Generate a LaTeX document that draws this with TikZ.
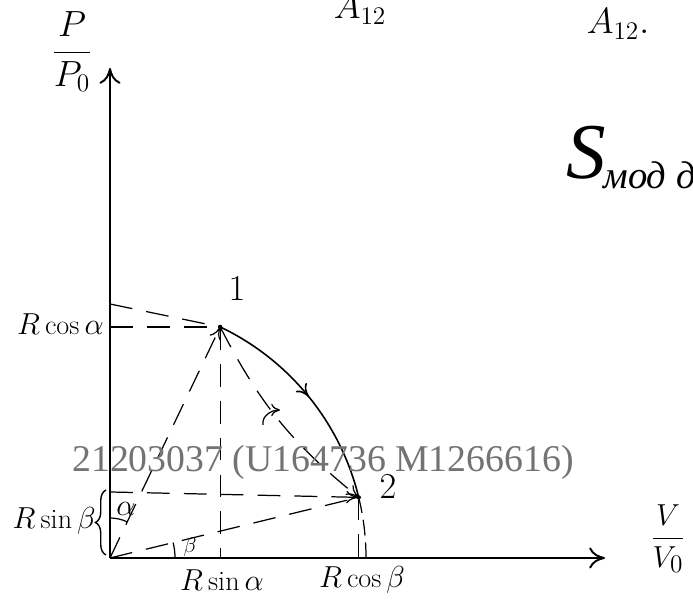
\documentclass[tikz,border=0pt]{standalone}
\usepackage{amsmath,amssymb}
\usepackage{fontspec}
\newfontfamily\cyrfont{Liberation Serif}
\newfontfamily\markfont{Liberation Serif}
\usetikzlibrary{arrows.meta,calc,decorations.pathreplacing,decorations.markings}

\begin{document}
\begin{tikzpicture}[x=0.02cm, y=0.02cm,
  axis/.style={line width=1.1pt, -{To[length=9pt,width=12pt]}},
  guide/.style={line width=0.7pt, dash pattern=on 13pt off 8pt},
  lbl/.style={inner sep=0pt, font=\fontsize{16}{18}\selectfont}]
  \useasboundingbox (0,0) rectangle (693,607);
  \coordinate (O) at (110,49);
  \path (O) ++(64.5:256) coordinate (P1);
  \path (O) ++(13.7:256) coordinate (P2);
  \coordinate (T1) at (110,303);
  \coordinate (T2) at (110,115);
  \draw[axis] (O) -- (110,539);
  \draw[axis] (O) -- (605,49);
  \draw[line width=0.9pt, decoration={markings, mark=at position 0.5 with {\arrow{To[length=7pt,width=8pt]}}}, postaction=decorate]
    (P1) arc[start angle=64.5, end angle=13.7, radius=256];
  \draw[line width=0.7pt, dash pattern=on 9pt off 4pt] (P2) arc[start angle=13.7, end angle=0, radius=256];
  \draw[guide] (O |- P1) -- (P1);
  \draw[guide] (T1) -- (P1);
  \draw[guide] (P1) -- (P1 |- O);
  \draw[guide, -{To[length=7pt,width=7pt]}] (O) -- (P1);
  \draw[guide, -{To[length=7pt,width=7pt]}] (P1) to[bend right=12] (P2);
  \draw[guide, -{To[length=7pt,width=7pt]}] (T2) -- (P2);
  \draw[guide] (O) -- (P2);
  \draw[guide] (P2) -- (P2 |- O);
  \draw[line width=0.7pt, -{To[length=5pt,width=7pt]}] (263,182) to[out=100,in=180] (280,197);
  \draw[line width=0.7pt] (O) ++(90:40) arc[start angle=90, end angle=64.5, radius=40];
  \draw[line width=0.7pt] (O) ++(0:65) arc[start angle=0, end angle=13.7, radius=65];
  \draw[line width=0.8pt, decorate, decoration={brace, amplitude=6pt}] (106,52) -- (106,117);
  \fill (P1) circle[radius=2.2];
  \fill (P2) circle[radius=2.2];
  \node[lbl, anchor=east] (rca) at (104,283) {$R\cos\alpha$};
  \node[lbl, anchor=east] (rsb) at (96,86) {$R\sin\beta$};
  \node[lbl] (rsa) at (222,27) {$R\sin\alpha$};
  \node[lbl] (rcb) at (362,27) {$R\cos\beta$};
  \node[lbl] (ang1) at (126,98) {$\alpha$};
  \node[lbl, font=\fontsize{13}{15}\selectfont] (ang2) at (190,60) {$\beta$};
  \node[font=\fontsize{20}{22}\selectfont] (n1) at (237,318) {$1$};
  \node[font=\fontsize{20}{22}\selectfont] (n2) at (388,120) {$2$};
  \node[font=\fontsize{20}{22}\selectfont] (pp0) at (72,555) {$\dfrac{P}{P_0}$};
  \node[font=\fontsize{19}{21}\selectfont] (vv0) at (668,68) {$\dfrac{V}{V_0}$};
  \node[font=\fontsize{20}{22}\selectfont] (a12a) at (360,598) {$A_{12}$};
  \node[font=\fontsize{20}{22}\selectfont] (a12b) at (618,583) {$A_{12}.$};
  \node[font=\cyrfont\itshape\fontsize{45}{48}\selectfont] (smod) at (586,454) {S};
  \node[anchor=west, inner sep=0pt, font=\cyrfont\itshape\fontsize{22}{24}\selectfont] (mod) at (603,432) {мод д};
  \node[text=black!55, anchor=base, font=\markfont\fontsize{21.5}{24}\selectfont] (wm) at (323,135) {21203037 (U164736 M1266616)};
\end{tikzpicture}
\end{document}
